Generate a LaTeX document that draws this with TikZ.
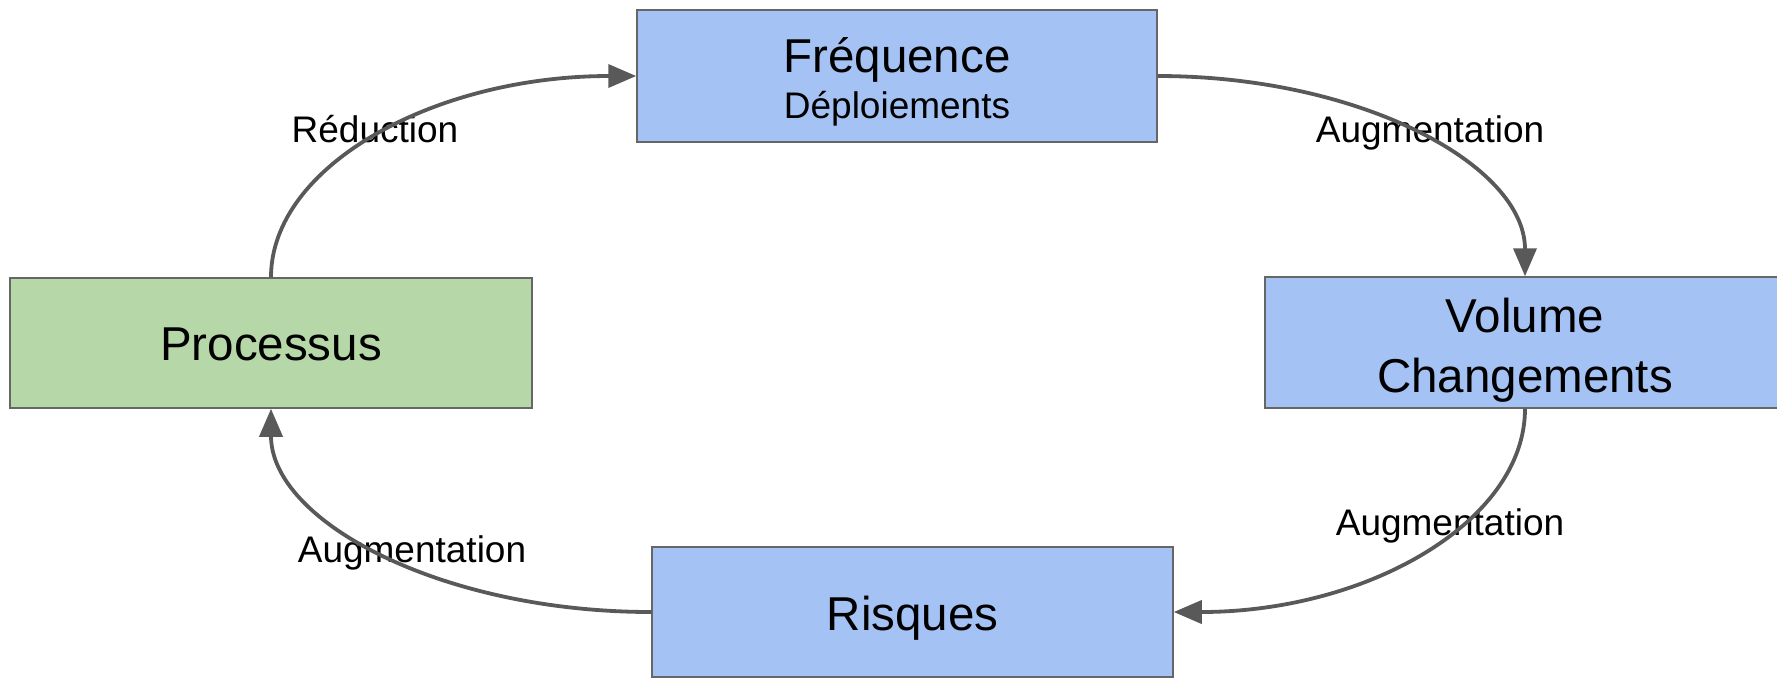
\documentclass[tikz,border=0pt]{standalone}
\usepackage{fontspec}
\setmainfont{Liberation Sans}
\usetikzlibrary{arrows.meta}
\definecolor{boxblue}{HTML}{A4C2F4}
\definecolor{boxgreen}{HTML}{B6D7A8}
\definecolor{boxline}{HTML}{666666}
\definecolor{arrline}{HTML}{595959}
\tikzset{
  box/.style={draw=boxline, line width=0.75pt, rectangle, inner sep=0pt},
  bigtext/.style={inner sep=0pt, anchor=base, font=\fontsize{23.75pt}{28pt}\selectfont},
  smalltext/.style={inner sep=0pt, anchor=base, font=\fontsize{18.5pt}{22pt}\selectfont},
  arr/.style={draw=arrline, line width=1.9pt, -{Triangle[length=14pt,width=11.5pt]}}
}
\begin{document}
\begin{tikzpicture}[x=0.5pt,y=-0.5pt]
\useasboundingbox (0,0) rectangle (1777,677);
% boxes
\node[box, fill=boxblue, minimum width=260pt, minimum height=66pt] (fre) at (897,76) {};
\node[box, fill=boxblue, minimum width=260pt, minimum height=65.5pt] (vol) at (1525,342.5) {};
\node[box, fill=boxblue, minimum width=260.5pt, minimum height=65pt] (ris) at (912.5,612) {};
\node[box, fill=boxgreen, minimum width=261pt, minimum height=65pt] (pro) at (271,343) {};
% box texts
\node[bigtext] (freA) at (897,72) {Fréquence};
\node[smalltext] (freB) at (897,118) {Déploiements};
\node[bigtext] (volA) at (1525,332) {Volume};
\node[bigtext] (volB) at (1525,392) {Changements};
\node[bigtext] (risA) at (912.5,630) {Risques};
\node[bigtext] (proA) at (271,360) {Processus};
% edge labels
\node[smalltext] (l1) at (375,142) {Réduction};
\node[smalltext] (l2) at (1430,142) {Augmentation};
\node[smalltext] (l3) at (1450,535) {Augmentation};
\node[smalltext] (l4) at (412,562) {Augmentation};
% connectors
\draw[arr] (pro.north) .. controls +(0,-111.5) and +(-202,0) .. (fre.west);
\draw[arr] (fre.east) .. controls +(203,0) and +(0,-111) .. (vol.north);
\draw[arr] (vol.south) .. controls +(0,112.6) and +(194,0) .. (ris.east);
\draw[arr] (ris.west) .. controls +(-210,0) and +(0,112.6) .. (pro.south);
\end{tikzpicture}
\end{document}
